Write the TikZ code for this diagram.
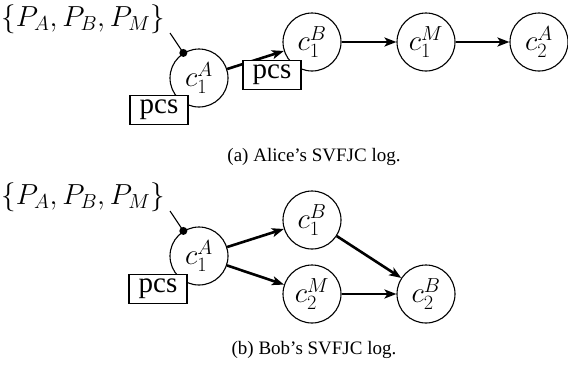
\RequirePackage{fix-cm}
\documentclass[tikz,border=0pt]{standalone}
\usepackage{fontspec}
\setmainfont{Liberation Serif}
\usetikzlibrary{arrows.meta}
\begin{document}
\begin{tikzpicture}[x=1pt,y=-1pt,
  ev/.style={circle,draw,line width=1.1pt,minimum size=58pt,inner sep=0pt,font=\fontsize{29}{34}\selectfont},
  pcsbox/.style={draw,fill=white,line width=1.1pt,minimum width=58pt,minimum height=29pt,inner sep=0pt,font=\fontsize{29}{34}\selectfont},
  setlbl/.style={inner sep=0pt,font=\fontsize{29}{34}\selectfont},
  captxt/.style={inner sep=0pt,font=\fontsize{19}{23}\selectfont},
  arr/.style={-{Stealth[length=12pt,width=9pt,inset=3pt]},line width=2.6pt},
  pinln/.style={line width=1.1pt},
]
\useasboundingbox (0,0) rectangle (568,367);

% ---- (a) Alice ----
\node[ev] (a1) at (199,78) {$c_1^A$};
\node[ev] (a2) at (312,42) {$c_1^B$};
\node[ev] (a3) at (426,42) {$c_1^M$};
\node[ev] (a4) at (539,42) {$c_2^A$};
\node[setlbl] (aset) at (83,19) {$\{P_A,P_B,P_M\}$};
\coordinate (apin) at (170,33);
\draw[pinln] (apin) -- (a1.122);
\fill (a1.122) circle (4pt);
\draw[arr] (a1) -- (a2);
\draw[arr] (a2) -- (a3);
\draw[arr] (a3) -- (a4);
\node[pcsbox] (apcs1) at (159,110) {pcs};
\node[pcsbox] (apcs2) at (272,75) {pcs};
\node[captxt] (capa) at (314,157) {(a) Alice's SVFJC log.};

% ---- (b) Bob ----
\node[ev] (b1) at (199,256) {$c_1^A$};
\node[ev] (b2) at (312,220) {$c_1^B$};
\node[ev] (b3) at (312,294) {$c_2^M$};
\node[ev] (b4) at (426,294) {$c_2^B$};
\node[setlbl] (bset) at (83,197) {$\{P_A,P_B,P_M\}$};
\coordinate (bpin) at (170,211);
\draw[pinln] (bpin) -- (b1.122);
\fill (b1.122) circle (4pt);
\draw[arr] (b1) -- (b2);
\draw[arr] (b1) -- (b3);
\draw[arr] (b2) -- (b4);
\draw[arr] (b3) -- (b4);
\node[pcsbox] (bpcs) at (158,289) {pcs};
\node[captxt] (capb) at (314,350) {(b) Bob's SVFJC log.};
\end{tikzpicture}
\end{document}
